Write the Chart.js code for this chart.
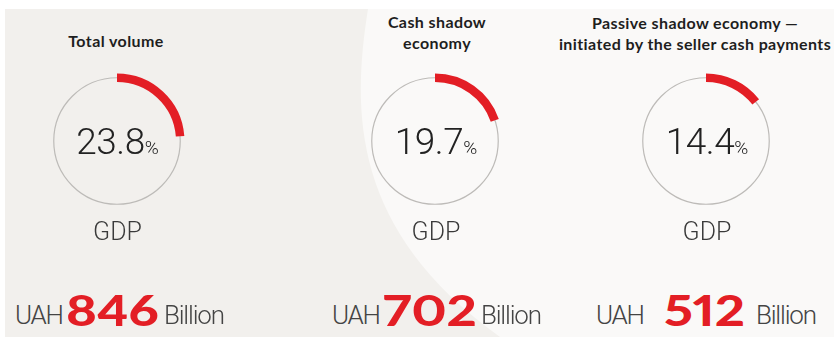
<!DOCTYPE html>
<html>
<head>
<meta charset="utf-8">
<script src="https://cdn.jsdelivr.net/npm/chart.js@4/dist/chart.umd.min.js"></script>
<style>
  html, body { margin: 0; padding: 0; background: #ffffff; }
  #stage { position: relative; width: 834px; height: 337px; overflow: hidden; font-family: Lato, "Noto Sans", sans-serif; }
  #bg { position: absolute; left: 0; top: 0; }
  canvas.g { position: absolute; }
  .title { position: absolute; width: 320px; text-align: center; font-weight: 700; font-size: 16px; letter-spacing: 0.4px; line-height: 21px; color: #1e1e1e; }
  .thin { font-family: "Roboto Light", Roboto, Lato, sans-serif; font-weight: 300; }
  .pct { position: absolute; width: 160px; text-align: center; font-size: 37px; color: #222; line-height: 1; letter-spacing: -0.5px; }
  .pct span { font-size: 19px; letter-spacing: 0; }
  .gdp { position: absolute; width: 160px; text-align: center; font-size: 25px; color: #3a3a3a; line-height: 1; }
  .word { position: absolute; white-space: nowrap; line-height: 1; }
  .lbl { font-size: 26px; color: #444; }
  .lbl.before { letter-spacing: -1.3px; }
  .lbl.after { letter-spacing: -1.2px; }
  .amt { font-weight: 900; font-size: 42px; color: #e31e25; font-variant-numeric: proportional-nums; transform: scaleX(1.25); transform-origin: left bottom; }
</style>
</head>
<body>
<div id="stage">
  <svg id="bg" width="834" height="337">
    <rect x="5" y="9" width="829" height="328" fill="#f2f0ed"/>
    <path d="M368,9 C352,110 350,230 500,337 L834,337 L834,9 Z" fill="#faf9f8"/>
  </svg>
</div>
<script>
// ---- data ----
const titles = [["Total volume"], ["Cash shadow", "economy"], ["Passive shadow economy \u2014", "initiated by the seller cash payments"]];
const percentOfGDP = [23.8, 19.7, 14.4];
const amountsUAHbn = [846, 702, 512];
const unitBefore = "UAH";
const unitAfter = "Billion";
const baseLabel = "GDP";

// ---- layout (positions only) ----
const centersX = [116.5, 435, 706];
const centerY = 141;
const titleCenterX = [116, 437, 695];
const titleTop = [[30], [11, 32], [12, 33]];
const rowLeft = [[15, 66, 164], [332, 383, 481], [596, 664, 756]];

const stage = document.getElementById('stage');

const ringPlugin = {
  id: 'ring',
  beforeDatasetsDraw(chart) {
    const arc = chart.getDatasetMeta(0).data[0];
    if (!arc) return;
    const p = arc.getProps(['x', 'y', 'innerRadius', 'outerRadius'], true);
    const ctx = chart.ctx;
    ctx.save();
    ctx.beginPath();
    ctx.arc(p.x, p.y, (p.innerRadius + p.outerRadius) / 2, 0, Math.PI * 2);
    ctx.strokeStyle = '#bdbbb8';
    ctx.lineWidth = 1.2;
    ctx.stroke();
    ctx.restore();
  }
};

percentOfGDP.forEach((v, i) => {
  const size = 140;
  const cv = document.createElement('canvas');
  cv.className = 'g';
  cv.width = size; cv.height = size;
  cv.style.left = (centersX[i] - size / 2) + 'px';
  cv.style.top = (centerY - size / 2) + 'px';
  stage.appendChild(cv);
  new Chart(cv, {
    type: 'doughnut',
    data: {
      labels: ['share', 'rest'],
      datasets: [{
        data: [v, 100 - v],
        backgroundColor: ['#e31e25', 'rgba(0,0,0,0)'],
        borderWidth: 0,
        hoverOffset: 0,
        offset: 0
      }]
    },
    options: {
      responsive: false,
      animation: false,
      cutout: 59,
      layout: { padding: 2.5 },
      plugins: { legend: { display: false }, tooltip: { enabled: false } },
      events: []
    },
    plugins: [ringPlugin]
  });

  titles[i].forEach((line, j) => {
    const t = document.createElement('div');
    t.className = 'title';
    t.textContent = line;
    t.style.left = (titleCenterX[i] - 160) + 'px';
    t.style.top = titleTop[i][j] + 'px';
    stage.appendChild(t);
  });

  const p = document.createElement('div');
  p.className = 'pct thin';
  p.innerHTML = v.toFixed(1) + '<span>%</span>';
  p.style.left = (centersX[i] - 80 + 1) + 'px';
  p.style.top = (centerY - 18) + 'px';
  stage.appendChild(p);

  const g = document.createElement('div');
  g.className = 'gdp thin';
  g.textContent = baseLabel;
  g.style.left = (centersX[i] - 80 + 1) + 'px';
  g.style.top = '219px';
  stage.appendChild(g);

  const parts = [[unitBefore, 'lbl thin before'], [String(amountsUAHbn[i]), 'amt'], [unitAfter, 'lbl thin after']];
  parts.forEach((pt, k) => {
    const w = document.createElement('div');
    w.className = 'word ' + pt[1];
    w.textContent = pt[0];
    w.style.left = rowLeft[i][k] + 'px';
    w.style.top = (k === 1 ? 289 : 302) + 'px';
    stage.appendChild(w);
  });
});
</script>
</body>
</html>
